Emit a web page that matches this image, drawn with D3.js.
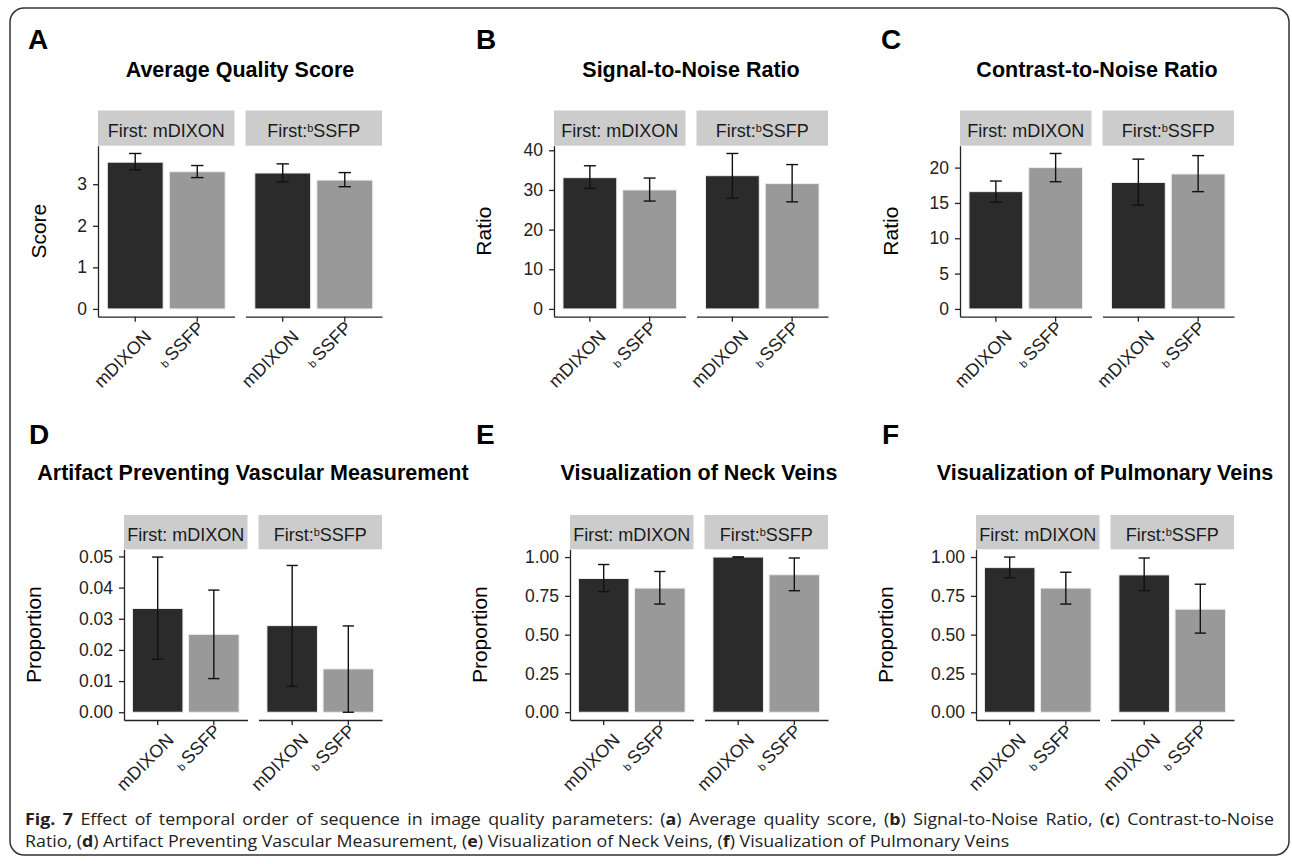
<!DOCTYPE html>
<html>
<head>
<meta charset="utf-8">
<script src="https://cdn.jsdelivr.net/npm/d3@7"></script>
<style>
  body { margin: 0; background: #fff; }
  svg { display: block; }
</style>
</head>
<body>
<div id="fig"></div>
<script>
// panel letters, titles and axis titles
var letters = ["A", "B", "C", "D", "E", "F"];
var titles = ["Average Quality Score", "Signal-to-Noise Ratio", "Contrast-to-Noise Ratio",
    "Artifact Preventing Vascular Measurement", "Visualization of Neck Veins", "Visualization of Pulmonary Veins"];
var yTitles = ["Score", "Ratio", "Ratio", "Proportion", "Proportion", "Proportion"];

// facets and x categories (the "b" of bSSFP is drawn small)
var facets = ["First: mDIXON", "First:bSSFP"];
var sequences = ["mDIXON", "bSSFP"];

// values: [first mDIXON: mDIXON, bSSFP, first bSSFP: mDIXON, bSSFP]
var scoreMean = [3.53, 3.30, 3.27, 3.10];
var scoreLow  = [3.35, 3.16, 3.06, 2.94];
var scoreHigh = [3.74, 3.45, 3.49, 3.28];

var snrMean = [33.1, 30.0, 33.6, 31.6];
var snrLow  = [30.4, 27.2, 27.9, 27.0];
var snrHigh = [36.1, 33.0, 39.2, 36.4];

var cnrMean = [16.6, 20.0, 17.9, 19.1];
var cnrLow  = [15.1, 18.0, 14.7, 16.6];
var cnrHigh = [18.1, 22.0, 21.2, 21.7];

var artifactMean = [0.0333, 0.0250, 0.0278, 0.0139];
var artifactLow  = [0.0170, 0.0108, 0.0083, 0.0000];
var artifactHigh = [0.0498, 0.0392, 0.0471, 0.0277];

var neckMean = [0.862, 0.800, 1.000, 0.886];
var neckLow  = [0.777, 0.697, 1.000, 0.783];
var neckHigh = [0.952, 0.907, 1.000, 0.994];

var pulmMean = [0.932, 0.800, 0.885, 0.664];
var pulmLow  = [0.867, 0.697, 0.784, 0.510];
var pulmHigh = [1.000, 0.902, 0.994, 0.825];

// y tick values
var scoreTicks = [0, 1, 2, 3];
var snrTicks = [0, 10, 20, 30, 40];
var cnrTicks = [0, 5, 10, 15, 20];
var artifactTicks = [0, 0.01, 0.02, 0.03, 0.04, 0.05];
var propTicks = [0, 0.25, 0.5, 0.75, 1];

var means = [scoreMean, snrMean, cnrMean, artifactMean, neckMean, pulmMean];
var lows = [scoreLow, snrLow, cnrLow, artifactLow, neckLow, pulmLow];
var highs = [scoreHigh, snrHigh, cnrHigh, artifactHigh, neckHigh, pulmHigh];
var ticks = [scoreTicks, snrTicks, cnrTicks, artifactTicks, propTicks, propTicks];
var formats = ["d", "d", "d", ".2f", ".2f", ".2f"];

// layout of each panel on the page
var layout = [
    { left: 98, right: 382, row: 0, letterX: 28, ytX: 46 },
    { left: 554, right: 828, row: 0, letterX: 476, ytX: 491 },
    { left: 960, right: 1234, row: 0, letterX: 881, ytX: 898 },
    { left: 124, right: 382, row: 1, letterX: 29, ytX: 41 },
    { left: 570, right: 828, row: 1, letterX: 476, ytX: 487 },
    { left: 976, right: 1234, row: 1, letterX: 882, ytX: 893 }
];
var rows = [
    { letterY: 49, titleY: 77, stripTop: 110.5, top: 145.7, bottom: 316.7 },
    { letterY: 444, titleY: 480, stripTop: 515, top: 549.3, bottom: 720 }
];
var facetGap = 11;
var fills = ["#2b2b2b", "#999999"];
var font = "'Liberation Sans', Arial, sans-serif";

var svg = d3.select("#fig").append("svg")
    .attr("width", 1292)
    .attr("height", 864);

svg.append("rect")
    .attr("x", 10).attr("y", 8)
    .attr("width", 1279).attr("height", 847)
    .attr("rx", 14)
    .attr("fill", "none")
    .attr("stroke", "#333")
    .attr("stroke-width", 1.5);

// writes "b" small in front of SSFP
function seqText(sel, label, small, shift) {
    if (label.indexOf("bSSFP") < 0) { sel.text(label); return; }
    var pre = label.slice(0, label.indexOf("bSSFP"));
    if (pre) sel.append("tspan").text(pre);
    sel.append("tspan").attr("font-size", small).attr("dy", shift).text("b");
    sel.append("tspan").attr("dy", -shift).attr("dx", shift === 0 ? 3 : 0).text("SSFP");
}

for (var p = 0; p < 6; p++) {
    var L = layout[p], R = rows[L.row];
    var g = svg.append("g");

    g.append("text")
        .attr("x", L.letterX).attr("y", R.letterY)
        .attr("font-family", font).attr("font-weight", "bold").attr("font-size", 28)
        .text(letters[p]);

    g.append("text")
        .attr("x", (L.left + L.right) / 2).attr("y", R.titleY)
        .attr("text-anchor", "middle")
        .attr("font-family", font).attr("font-weight", "bold").attr("font-size", 21.5)
        .text(titles[p]);

    var hi = d3.max(highs[p].concat(means[p]));
    var y = d3.scaleLinear()
        .domain([-0.05 * hi, hi * 1.05])
        .range([R.bottom, R.top]);

    var yAxis = g.append("g")
        .attr("transform", "translate(" + L.left + ",0)")
        .call(d3.axisLeft(y).tickValues(ticks[p]).tickFormat(d3.format(formats[p]))
            .tickSize(5).tickSizeOuter(0).tickPadding(6));
    yAxis.selectAll("text").attr("font-family", font).attr("font-size", 17.5).attr("fill", "#222");
    yAxis.selectAll("line, path").attr("stroke", "#222").attr("stroke-width", 1.3);

    g.append("text")
        .attr("transform", "translate(" + L.ytX + "," + ((R.top + R.bottom) / 2) + ") rotate(-90)")
        .attr("text-anchor", "middle")
        .attr("font-family", font).attr("font-size", 21)
        .text(yTitles[p]);

    var fw = (L.right - L.left - facetGap) / 2;
    for (var f = 0; f < 2; f++) {
        var x0 = L.left + f * (fw + facetGap);
        var x = d3.scaleBand()
            .domain(sequences)
            .range([x0, x0 + fw])
            .paddingInner(0.1)
            .paddingOuter(0.15);

        // strip
        g.append("rect")
            .attr("x", x0).attr("y", R.stripTop)
            .attr("width", fw).attr("height", R.top - R.stripTop)
            .attr("fill", "#cccccc");
        g.append("text")
            .attr("x", x0 + fw / 2).attr("y", R.stripTop + 26)
            .attr("text-anchor", "middle")
            .attr("font-family", font).attr("font-size", 18).attr("fill", "#1a1a1a")
            .call(seqText, facets[f], 11, -5);

        var rowsData = sequences.map(function (s, i) {
            var k = f * 2 + i;
            return { seq: s, i: i, mean: means[p][k], low: lows[p][k], high: highs[p][k] };
        });

        g.selectAll(null)
            .data(rowsData)
            .enter()
            .append("rect")
            .attr("x", function (d) { return x(d.seq); })
            .attr("y", function (d) { return y(d.mean); })
            .attr("width", x.bandwidth())
            .attr("height", function (d) { return y(0) - y(d.mean); })
            .attr("fill", function (d) { return fills[d.i]; })
            .attr("stroke", "#eeeeee")
            .attr("stroke-width", 1);

        var capW = x.step() * 0.2;
        var eb = g.selectAll(null)
            .data(rowsData)
            .enter()
            .append("g")
            .attr("stroke", "#111")
            .attr("stroke-width", 1.4)
            .attr("transform", function (d) { return "translate(" + (x(d.seq) + x.bandwidth() / 2) + ",0)"; });
        eb.append("line")
            .attr("y1", function (d) { return y(d.low); })
            .attr("y2", function (d) { return y(d.high); });
        eb.append("line")
            .attr("x1", -capW / 2).attr("x2", capW / 2)
            .attr("y1", function (d) { return y(d.high); })
            .attr("y2", function (d) { return y(d.high); });
        eb.append("line")
            .attr("x1", -capW / 2).attr("x2", capW / 2)
            .attr("y1", function (d) { return y(d.low); })
            .attr("y2", function (d) { return y(d.low); });

        var xAxis = g.append("g")
            .attr("transform", "translate(0," + R.bottom + ")")
            .call(d3.axisBottom(x).tickSize(5).tickSizeOuter(0).tickFormat(""));
        xAxis.selectAll("line, path").attr("stroke", "#222").attr("stroke-width", 1.3);

        g.selectAll(null)
            .data(sequences)
            .enter()
            .append("text")
            .attr("transform", function (d) {
                return "translate(" + (x(d) + x.bandwidth() / 2 + 8) + "," + (R.bottom + 12) + ") rotate(-45)";
            })
            .attr("text-anchor", "end")
            .attr("dy", "0.72em")
            .attr("font-family", font).attr("font-size", 18).attr("fill", "#222")
            .each(function (d) { d3.select(this).call(seqText, d, 11, 0); });
    }
}

// caption (justified paragraph: first line filled by a little word spacing)
var capFont = "'Open Sans', 'Noto Sans', sans-serif";
var cap1 = [["Fig. 7", true], [" Effect of temporal order of sequence in image quality parameters: (", false],
    ["a", true], [") Average quality score, (", false], ["b", true], [") Signal-to-Noise Ratio, (", false],
    ["c", true], [") Contrast-to-Noise", false]];
var cap2 = [["Ratio, (", false], ["d", true], [") Artifact Preventing Vascular Measurement, (", false],
    ["e", true], [") Visualization of Neck Veins, (", false], ["f", true], [") Visualization of Pulmonary Veins", false]];

var capLines = [[cap1, 825], [cap2, 847]].map(function (c) {
    var t = svg.append("text")
        .attr("x", 0).attr("y", 0)
        .attr("font-family", capFont).attr("font-size", 16).attr("fill", "#222");
    c[0].forEach(function (s) {
        t.append("tspan").attr("font-weight", s[1] ? "bold" : "normal").text(s[0]);
    });
    return { node: t, y: c[1], spaces: c[0].map(function (s) { return s[0]; }).join("").split(" ").length - 1 };
});
var sx = 985 / capLines[1].node.node().getComputedTextLength();
var w1 = capLines[0].node.node().getComputedTextLength();
capLines[0].node.attr("word-spacing", Math.max(0, (1250 / sx - w1) / capLines[0].spaces));
capLines.forEach(function (c) {
    c.node.attr("transform", "translate(25," + c.y + ") scale(" + sx + ",1)");
});
</script>
</body>
</html>
